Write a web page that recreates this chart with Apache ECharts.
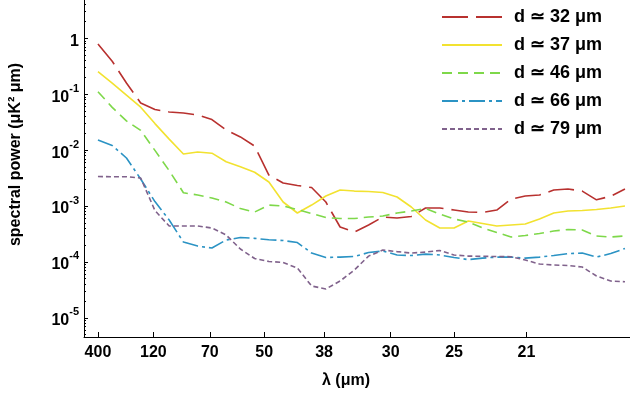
<!DOCTYPE html>
<html>
<head>
<meta charset="utf-8">
<script src="https://cdn.jsdelivr.net/npm/echarts@6/dist/echarts.min.js"></script>
<style>html,body{margin:0;padding:0;background:#fff;}#c{width:630px;height:394px;}</style>
</head>
<body>
<div id="c"></div>
<script>
// x positions: wavenumber 1000/lambda (1/mm)
var kValues = [2.5,4,5.5,7,8.5,10,11.5,13,14.5,16,17.5,19,20.5,22,23.5,25,26.5,28,29.5,31,32.5,34,35.5,37,38.5,40,41.5,43,44.5,46,47.5,49,50.5,52,53.5,55,56.5,58];
var lambdaTicks = [400,120,70,50,38,30,25,21];
var seriesNames = ['d \u2243 32 \u03bcm','d \u2243 37 \u03bcm','d \u2243 46 \u03bcm','d \u2243 66 \u03bcm','d \u2243 79 \u03bcm'];
var d32 = [0.79,0.388,0.159,0.0697,0.0532,0.0481,0.0461,0.0425,0.0352,0.0229,0.0172,0.0118,0.00358,0.00258,0.00233,0.00214,0.00118,0.000421,0.000343,0.000457,0.000635,0.000610,0.000649,0.000921,0.000921,0.000848,0.000781,0.000766,0.000848,0.00133,0.00151,0.00157,0.00193,0.00201,0.00185,0.00129,0.00150,0.00201];
var d37 = [0.253,0.158,0.0959,0.0585,0.0298,0.0157,0.00851,0.00925,0.00881,0.00618,0.00505,0.00402,0.00269,0.00118,0.00075,0.00104,0.00151,0.00193,0.00185,0.00182,0.00174,0.00145,0.00096,0.000562,0.000405,0.000405,0.00054,0.000487,0.000439,0.000457,0.000477,0.000585,0.00075,0.000814,0.000831,0.000866,0.000921,0.001];
var d46 = [0.111,0.0581,0.0333,0.0225,0.00988,0.0043,0.00173,0.00157,0.00139,0.00118,0.000902,0.000781,0.00104,0.001,0.000866,0.000734,0.000622,0.000597,0.000597,0.000635,0.000662,0.00075,0.000814,0.000902,0.000719,0.000585,0.000518,0.000405,0.000336,0.000279,0.000297,0.000322,0.000357,0.00038,0.000372,0.000291,0.000279,0.000291];
var d66 = [0.0152,0.0121,0.00722,0.00304,0.0012,0.000561,0.000227,0.000192,0.000177,0.000247,0.000273,0.000264,0.000249,0.000242,0.000222,0.000144,0.00012,0.000122,0.000125,0.000147,0.000157,0.000133,0.00013,0.000138,0.000133,0.00012,0.00011,0.000117,0.000122,0.000122,0.000117,0.000122,0.00013,0.000141,0.000144,0.000122,0.000141,0.000174];
var d79 = [0.00337,0.00334,0.00334,0.00317,0.00083,0.000439,0.000439,0.000439,0.000404,0.000303,0.00017,0.000115,0.000102,0.0000976,0.0000778,0.0000371,0.0000328,0.0000455,0.0000716,0.000127,0.000163,0.000153,0.000144,0.00015,0.00016,0.000133,0.000127,0.000126,0.000125,0.000124,0.000108,0.0000917,0.000088,0.0000863,0.0000811,0.000056,0.0000455,0.0000442];

var yLogMin = -5.343, yLogMax = 0.685;
var minorLog = [];
for (var e = -6; e <= 0; e++) { for (var m = 2; m <= 9; m++) { var v = e + Math.log10(m); if (v > yLogMin && v < yLogMax) minorLog.push(v); } }

function pairs(vals){ return kValues.map(function(k,i){ return [k, vals[i]]; }); }
var font = 'Liberation Sans, Arial, sans-serif';
var styles = [
  {color:'#b8312f', type:[26,8]},
  {color:'#f2e230', type:'solid'},
  {color:'#7ed84a', type:[10,6]},
  {color:'#2b93c4', type:[16,4,3,4]},
  {color:'#80628c', type:[5,3]}
];
var allData = [d32,d37,d46,d66,d79];

var chart = echarts.init(document.getElementById('c'), null, {renderer:'canvas'});
chart.setOption({
  animation:false,
  backgroundColor:'#fff',
  grid:{left:82, right:0, top:0, bottom:57},
  legend:{
    orient:'vertical', left:441, top:8, padding:0, itemWidth:60, itemHeight:14, itemGap:10,
    selectedMode:false,
    itemStyle:{color:'transparent', borderWidth:0, opacity:0},
    textStyle:{fontFamily:font, fontWeight:'bold', fontSize:18, color:'#000', padding:[0,0,0,7]},
    data:seriesNames
  },
  xAxis:{
    type:'value', min:1.03, max:58.53,
    name:'\u03bb (\u03bcm)', nameLocation:'middle', nameGap:36,
    nameTextStyle:{fontFamily:font, fontWeight:'bold', fontSize:16, color:'#000', padding:[0,22,0,0]},
    axisLine:{show:true, onZero:false, lineStyle:{color:'#000', width:1}},
    axisTick:{show:true, inside:true, length:5, lineStyle:{color:'#000'}, customValues: lambdaTicks.map(function(l){return 1000/l;})},
    axisLabel:{show:true, margin:8, fontFamily:font, fontWeight:'bold', fontSize:16, color:'#000',
      customValues: lambdaTicks.map(function(l){return 1000/l;}),
      formatter:function(v){ return String(Math.round(1000/v)); }},
    splitLine:{show:false}
  },
  yAxis:[{
    type:'log', min:Math.pow(10,yLogMin), max:Math.pow(10,yLogMax),
    name:'spectral power (\u03bcK\u00b2 \u03bcm)', nameLocation:'middle', nameGap:60,
    nameTextStyle:{fontFamily:font, fontWeight:'bold', fontSize:16, color:'#000', padding:[0,0,0,28]},
    axisLine:{show:true, onZero:false, lineStyle:{color:'#000', width:1}},
    axisTick:{show:true, inside:true, length:4, lineStyle:{color:'#000'}},
    axisLabel:{show:true, margin:5, showMinLabel:false, showMaxLabel:false,
      formatter:function(v){ var e = Math.round(Math.log10(v)); if (e===0) return '{b|1}'; return '{b|10}{s|' + e + '}'; },
      rich:{
        b:{fontFamily:font, fontWeight:'bold', fontSize:16, color:'#000', lineHeight:22, verticalAlign:'bottom'},
        s:{fontFamily:font, fontWeight:'bold', fontSize:11, color:'#000', lineHeight:12, verticalAlign:'top'}
      }},
    splitLine:{show:false}
  },{
    type:'value', min:yLogMin, max:yLogMax, position:'left',
    axisLine:{show:false, onZero:false},
    axisTick:{show:true, inside:true, length:2, lineStyle:{color:'#000'}, customValues:minorLog},
    axisLabel:{show:false},
    splitLine:{show:false}
  }],
  series: allData.map(function(vals, i){
    return {
      name: seriesNames[i], type:'line', yAxisIndex:0, data: pairs(vals),
      showSymbol:false, symbol:'none', smooth:false,
      lineStyle:{color:styles[i].color, width:1.6, type:styles[i].type},
      itemStyle:{color:styles[i].color}
    };
  })
});
</script>
</body>
</html>
